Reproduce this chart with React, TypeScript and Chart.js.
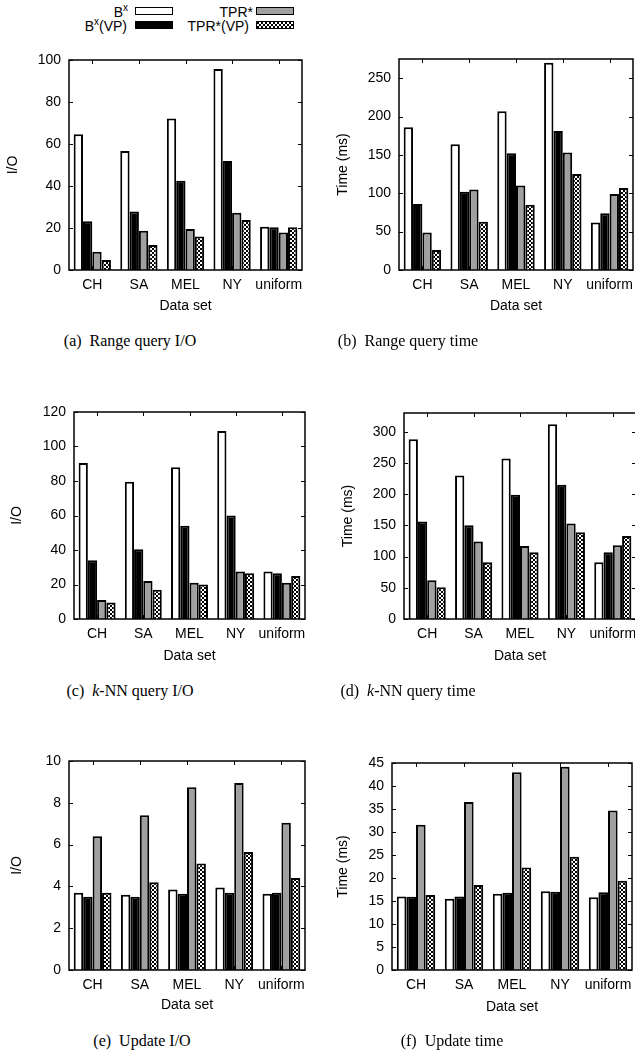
import React, { useEffect, useRef } from 'react';
import { Chart, registerables } from 'chart.js';

Chart.register(...registerables);

// ---------- data ----------
const categories = ['CH', 'SA', 'MEL', 'NY', 'uniform'];
const seriesLabels = ['Bx', 'Bx(VP)', 'TPR*', 'TPR*(VP)'];

// (a) Range query I/O
const rangeIoBx = [64.6, 56.7, 72.2, 95.7, 20.6];
const rangeIoBxVp = [23.2, 27.8, 42.5, 51.9, 20.3];
const rangeIoTpr = [8.7, 18.7, 19.5, 27.3, 17.8];
const rangeIoTprVp = [4.8, 11.9, 15.9, 23.8, 20.3];

// (b) Range query time
const rangeTimeBx = [186, 164, 207, 270, 62];
const rangeTimeBxVp = [86, 102, 152, 181, 74];
const rangeTimeTpr = [49, 105, 110, 153, 99];
const rangeTimeTprVp = [26, 63, 85, 125, 107];

// (c) k-NN query I/O
const knnIoBx = [90.5, 79.5, 88, 109, 27.5];
const knnIoBxVp = [34, 40.5, 54, 60, 26.5];
const knnIoTpr = [11, 22, 21, 27.5, 21];
const knnIoTprVp = [9.5, 17, 20, 26.5, 25];

// (d) k-NN query time
const knnTimeBx = [288, 230, 257, 312, 91];
const knnTimeBxVp = [156, 150, 199, 215, 107];
const knnTimeTpr = [62, 124, 117, 153, 118];
const knnTimeTprVp = [51, 91, 107, 139, 133];

// (e) Update I/O
const updIoBx = [3.7, 3.6, 3.85, 3.95, 3.65];
const updIoBxVp = [3.5, 3.5, 3.65, 3.7, 3.7];
const updIoTpr = [6.4, 7.4, 8.75, 8.95, 7.05];
const updIoTprVp = [3.7, 4.2, 5.1, 5.65, 4.4];

// (f) Update time
const updTimeBx = [16, 15.5, 16.6, 17.1, 15.8];
const updTimeBxVp = [15.9, 16, 16.8, 17, 16.9];
const updTimeTpr = [31.6, 36.5, 43, 44.2, 34.7];
const updTimeTprVp = [16.3, 18.5, 22.3, 24.6, 19.4];

// ---------- panel layout ----------
type Spec = {
  series: number[][];
  yTitle: string;
  yMax: number;
  yStep: number;
  canvas: { x: number; y: number; w: number; h: number };
  plot: { l: number; r: number; t: number; b: number };
  yTitleX: number;
  xTitleY: number;
};

const panels: Spec[] = [
  {
    series: [rangeIoBx, rangeIoBxVp, rangeIoTpr, rangeIoTprVp],
    yTitle: 'I/O', yMax: 100, yStep: 20,
    canvas: { x: 0, y: 40, w: 330, h: 285 },
    plot: { l: 69, r: 302, t: 60, b: 270 },
    yTitleX: 13, xTitleY: 306,
  },
  {
    series: [rangeTimeBx, rangeTimeBxVp, rangeTimeTpr, rangeTimeTprVp],
    yTitle: 'Time (ms)', yMax: 275, yStep: 50,
    canvas: { x: 317, y: 40, w: 345, h: 285 },
    plot: { l: 399, r: 633, t: 59, b: 270 },
    yTitleX: 343, xTitleY: 306,
  },
  {
    series: [knnIoBx, knnIoBxVp, knnIoTpr, knnIoTprVp],
    yTitle: 'I/O', yMax: 120, yStep: 20,
    canvas: { x: 0, y: 395, w: 330, h: 280 },
    plot: { l: 74, r: 305, t: 412, b: 619 },
    yTitleX: 17, xTitleY: 656,
  },
  {
    series: [knnTimeBx, knnTimeBxVp, knnTimeTpr, knnTimeTprVp],
    yTitle: 'Time (ms)', yMax: 330, yStep: 50,
    canvas: { x: 317, y: 395, w: 345, h: 280 },
    plot: { l: 404, r: 636, t: 413, b: 619 },
    yTitleX: 348, xTitleY: 656,
  },
  {
    series: [updIoBx, updIoBxVp, updIoTpr, updIoTprVp],
    yTitle: 'I/O', yMax: 10, yStep: 2,
    canvas: { x: 0, y: 745, w: 330, h: 280 },
    plot: { l: 69, r: 305, t: 761, b: 970 },
    yTitleX: 17, xTitleY: 1005,
  },
  {
    series: [updTimeBx, updTimeBxVp, updTimeTpr, updTimeTprVp],
    yTitle: 'Time (ms)', yMax: 45, yStep: 5,
    canvas: { x: 317, y: 745, w: 345, h: 280 },
    plot: { l: 392, r: 632, t: 763, b: 970 },
    yTitleX: 343, xTitleY: 1007,
  },
];

const captions = [
  { x: 130, y: 341, node: <>(a)&nbsp; Range query I/O</> },
  { x: 408, y: 341, node: <>(b)&nbsp; Range query time</> },
  { x: 130, y: 691, node: <>(c)&nbsp; <i>k</i>-NN query I/O</> },
  { x: 408, y: 691, node: <>(d)&nbsp; <i>k</i>-NN query time</> },
  { x: 142, y: 1041, node: <>(e)&nbsp; Update I/O</> },
  { x: 452, y: 1041, node: <>(f)&nbsp; Update time</> },
];

const SANS = "'Liberation Sans', Arial, Helvetica, sans-serif";
const GRAY = '#a0a0a0';

function makePatternCanvas(): HTMLCanvasElement {
  const c = document.createElement('canvas');
  c.width = 4;
  c.height = 4;
  const g = c.getContext('2d')!;
  g.fillStyle = '#fff';
  g.fillRect(0, 0, 4, 4);
  g.fillStyle = '#000';
  g.fillRect(0, 0, 2, 2);
  g.fillRect(2, 2, 2, 2);
  return c;
}

const framePlugin = {
  id: 'gnuFrame',
  beforeDatasetsDraw(chart: any) {
    const { ctx, chartArea } = chart;
    const { left, right, top, bottom } = chartArea;
    const ys = chart.scales.y;
    const xs = chart.scales.x;
    ctx.save();
    ctx.strokeStyle = '#000';
    ctx.lineWidth = 1;
    const len = 4;
    ys.ticks.forEach((_t: any, i: number) => {
      const py = Math.round(ys.getPixelForTick(i)) + 0.5;
      ctx.beginPath();
      ctx.moveTo(left, py); ctx.lineTo(left + len, py);
      ctx.moveTo(right, py); ctx.lineTo(right - len, py);
      ctx.stroke();
    });
    xs.ticks.forEach((_t: any, i: number) => {
      const px = Math.round(xs.getPixelForTick(i)) + 0.5;
      ctx.beginPath();
      ctx.moveTo(px, top); ctx.lineTo(px, top + len);
      ctx.moveTo(px, bottom); ctx.lineTo(px, bottom - len);
      ctx.stroke();
    });
    ctx.restore();
  },
  afterDatasetsDraw(chart: any) {
    const { ctx, chartArea } = chart;
    const { left, right, top, bottom } = chartArea;
    ctx.save();
    ctx.strokeStyle = '#000';
    ctx.lineWidth = 1.5;
    ctx.strokeRect(left, top, right - left, bottom - top);
    ctx.restore();
  },
};

function Panel({ spec }: { spec: Spec }) {
  const ref = useRef<HTMLCanvasElement>(null);
  useEffect(() => {
    const canvas = ref.current!;
    const ctx = canvas.getContext('2d')!;
    const pattern = ctx.createPattern(makePatternCanvas(), 'repeat')!;
    const { canvas: c, plot: p } = spec;
    const fills = ['#ffffff', '#000000', GRAY, pattern];
    const yAxisWidth = p.l - c.x;
    const xAxisHeight = c.y + c.h - p.b;
    const lh = 14 * 1.2;
    const chart = new Chart(canvas, {
      type: 'bar',
      data: {
        labels: categories,
        datasets: spec.series.map((d, i) => ({
          label: seriesLabels[i],
          data: d,
          backgroundColor: fills[i] as any,
          borderColor: '#000',
          borderWidth: 2,
          categoryPercentage: 0.8,
          barPercentage: 1,
        })),
      },
      options: {
        responsive: false,
        animation: false,
        devicePixelRatio: 1,
        layout: {
          padding: { left: 0, bottom: 0, top: p.t - c.y, right: c.x + c.w - p.r },
        },
        plugins: { legend: { display: false }, tooltip: { enabled: false } },
        scales: {
          x: {
            type: 'category',
            offset: true,
            grid: { display: false, drawTicks: false },
            border: { display: false },
            ticks: {
              color: '#000',
              font: { family: SANS, size: 14 },
              padding: 7,
              maxRotation: 0,
              autoSkip: false,
            },
            title: {
              display: true,
              text: 'Data set',
              color: '#000',
              font: { family: SANS, size: 14 },
              padding: { top: 0, bottom: c.y + c.h - spec.xTitleY - lh / 2 },
            },
            afterFit: (s: any) => {
              s.height = xAxisHeight;
              s.paddingLeft = 0;
              s.paddingRight = 0;
            },
          },
          y: {
            type: 'linear',
            min: 0,
            max: spec.yMax,
            grid: { display: false, drawTicks: false },
            border: { display: false },
            ticks: {
              stepSize: spec.yStep,
              color: '#000',
              font: { family: SANS, size: 14 },
              padding: 8,
            },
            afterBuildTicks: (s: any) => {
              s.ticks = s.ticks.filter((t: any) => Math.abs(t.value / spec.yStep - Math.round(t.value / spec.yStep)) < 1e-6);
            },
            title: {
              display: true,
              text: spec.yTitle,
              color: '#000',
              font: { family: SANS, size: 14 },
              padding: { top: spec.yTitleX - c.x - lh / 2, bottom: 0 },
            },
            afterFit: (s: any) => {
              s.width = yAxisWidth;
              s.paddingTop = 0;
              s.paddingBottom = 0;
            },
          },
        },
      } as any,
      plugins: [framePlugin],
    });
    return () => chart.destroy();
  }, [spec]);
  return (
    <canvas
      ref={ref}
      width={spec.canvas.w}
      height={spec.canvas.h}
      style={{ position: 'absolute', left: spec.canvas.x, top: spec.canvas.y, width: spec.canvas.w, height: spec.canvas.h }}
    />
  );
}

function Swatch({ x, y, fill }: { x: number; y: number; fill: string }) {
  const style: React.CSSProperties = {
    position: 'absolute',
    left: x,
    top: y,
    width: 38,
    height: 8,
    boxSizing: 'border-box',
    border: '1.5px solid #000',
  };
  if (fill === 'pattern') {
    style.backgroundImage = `url(${makePatternCanvas().toDataURL()})`;
    style.backgroundRepeat = 'repeat';
  } else {
    style.background = fill;
  }
  return <div style={style} />;
}

function LegendText({ right, y, children }: { right: number; y: number; children: React.ReactNode }) {
  return (
    <div
      style={{
        position: 'absolute',
        right: 635 - right,
        top: y,
        transform: 'translateY(-50%)',
        fontFamily: SANS,
        fontSize: 14,
        lineHeight: '14px',
        whiteSpace: 'nowrap',
        color: '#000',
      }}
    >
      {children}
    </div>
  );
}

const supStyle: React.CSSProperties = { fontSize: 10, verticalAlign: 'top', position: 'relative', top: -4 };

export default function App() {
  return (
    <div
      style={{
        position: 'absolute',
        left: 0,
        top: 0,
        width: 635,
        height: 1057,
        overflow: 'hidden',
        background: '#fff',
      }}
    >
      <LegendText right={128} y={12}>B<span style={supStyle}>x</span></LegendText>
      <Swatch x={135} y={7} fill="#fff" />
      <LegendText right={127} y={26}>B<span style={supStyle}>x</span>(VP)</LegendText>
      <Swatch x={135} y={21} fill="#000" />
      <LegendText right={253} y={12}>TPR*</LegendText>
      <Swatch x={256} y={7} fill={GRAY} />
      <LegendText right={249} y={26}>TPR*(VP)</LegendText>
      <Swatch x={256} y={21} fill="pattern" />

      {panels.map((p, i) => (
        <Panel key={i} spec={p} />
      ))}

      {captions.map((c, i) => (
        <div
          key={i}
          style={{
            position: 'absolute',
            left: c.x,
            top: c.y,
            transform: 'translate(-50%, -50%)',
            fontFamily: "'Liberation Serif', 'Times New Roman', serif",
            fontSize: 16,
            whiteSpace: 'nowrap',
            color: '#000',
          }}
        >
          {c.node}
        </div>
      ))}
    </div>
  );
}
